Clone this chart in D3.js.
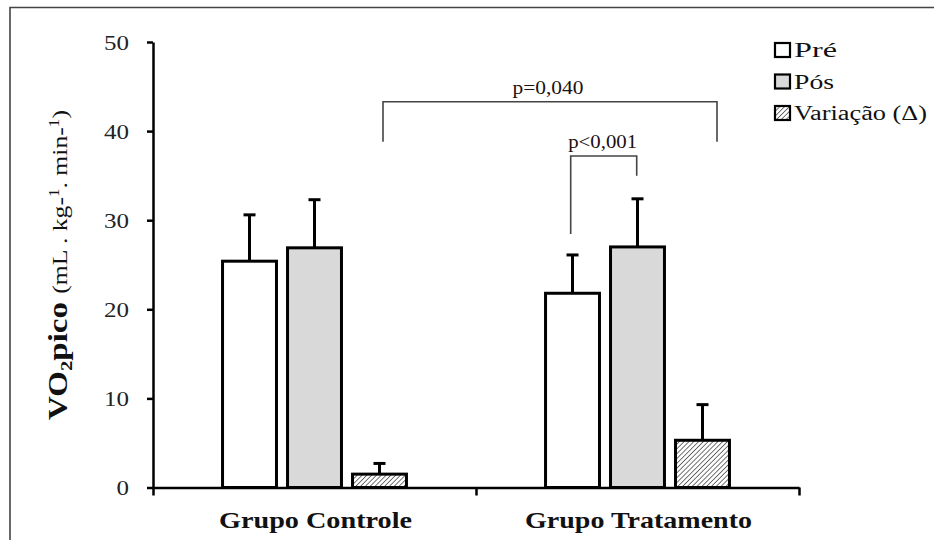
<!DOCTYPE html>
<html>
<head>
<meta charset="utf-8">
<script src="https://cdn.jsdelivr.net/npm/d3@7"></script>
<style>
  body { margin: 0; background: #fff; }
  svg text { font-family: "Liberation Serif", "Times New Roman", Times, serif; }
</style>
</head>
<body>
<div class="chart"></div>
<script>
// data
const groups = ['Grupo Controle', 'Grupo Tratamento'];
const series = ['Pré', 'Pós', 'Variação  (Δ)'];
const means = [[25.4, 26.9, 1.5], [21.8, 27.0, 5.3]];
const errors = [[5.2, 5.4, 1.2], [4.3, 5.4, 4.0]];
const yTicks = [0, 10, 20, 30, 40, 50];
// brackets: y in data units
const brackets = [
  { label: 'p=0,040', top: 43.3, ends: [38.8, 38.8] },
  { label: 'p<0,001', top: 37.2, ends: [28.45, 35.0] }
];

const width = 934, height = 540;
const serif = '"Liberation Serif", "Times New Roman", serif';
const svg = d3.select('.chart').append('svg').attr('width', width).attr('height', height)
  .style('display', 'block');

// frame (top and left edges visible)
svg.append('path').attr('d', 'M10,540V7.5H934').attr('fill', 'none')
  .attr('stroke', '#444').attr('stroke-width', 1.6);

const defs = svg.append('defs');
const hatch = defs.append('pattern').attr('id', 'hatch').attr('patternUnits', 'userSpaceOnUse')
  .attr('width', 3.4).attr('height', 3.4).attr('patternTransform', 'rotate(45)');
hatch.append('rect').attr('width', 3.4).attr('height', 3.4).attr('fill', '#fff');
hatch.append('line').attr('x1', 0).attr('y1', 0).attr('x2', 0).attr('y2', 3.4)
  .attr('stroke', '#000').attr('stroke-width', 1.1);

const fills = ['#ffffff', '#d9d9d9', 'url(#hatch)'];

const x0 = d3.scaleBand().domain(d3.range(groups.length)).range([153, 799]).padding(0);
const x1 = d3.scaleBand().domain(d3.range(series.length)).range([0, x0.bandwidth()])
  .paddingInner(0.17).paddingOuter(1.07);
const y = d3.scaleLinear().domain([0, 50]).range([487.5, 42]);

// glyphs are drawn wider than normal in the original -> stretch to measured widths
function fit(sel, len) {
  sel.attr('textLength', len).attr('lengthAdjust', 'spacingAndGlyphs');
}

// bars
const g = svg.append('g');
groups.forEach((grp, gi) => {
  series.forEach((s, si) => {
    const bx = x0(gi) + x1(si);
    g.append('rect')
      .attr('x', bx).attr('y', y(means[gi][si]))
      .attr('width', x1.bandwidth()).attr('height', y(0) - y(means[gi][si]))
      .attr('fill', fills[si]).attr('stroke', '#000').attr('stroke-width', 3);
    const cx = bx + x1.bandwidth() / 2;
    const top = y(means[gi][si] + errors[gi][si]);
    g.append('line').attr('x1', cx).attr('x2', cx)
      .attr('y1', y(means[gi][si])).attr('y2', top)
      .attr('stroke', '#000').attr('stroke-width', 3);
    g.append('line').attr('x1', cx - 6).attr('x2', cx + 6)
      .attr('y1', top).attr('y2', top)
      .attr('stroke', '#000').attr('stroke-width', 3);
  });
});

// y axis
const yAxis = d3.axisLeft(y).tickValues(yTicks).tickSizeInner(6).tickSizeOuter(0).tickPadding(18);
const yAxisDraw = svg.append('g').attr('transform', 'translate(153,0)').call(yAxis)
  .attr('font-family', serif);
yAxisDraw.select('.domain').attr('stroke', '#000').attr('stroke-width', 2.5);
yAxisDraw.selectAll('.tick line').attr('stroke', '#000').attr('stroke-width', 2.5);
yAxisDraw.selectAll('.tick text')
  .attr('font-size', 21).attr('fill', '#222')
  .attr('dy', '0.34em')
  .each(function (d) { fit(d3.select(this), d === 0 ? 12.5 : 25); });

// x axis
const xEdge = d3.scaleLinear().domain([0, groups.length]).range([153, 799]);
const xAxis = d3.axisBottom(xEdge).tickValues([0, 1, 2]).tickFormat('')
  .tickSizeInner(8).tickSizeOuter(0);
const xAxisDraw = svg.append('g').attr('transform', `translate(0,${y(0)})`).call(xAxis);
xAxisDraw.select('.domain').attr('stroke', '#000').attr('stroke-width', 2.5);
xAxisDraw.selectAll('.tick line').attr('stroke', '#000').attr('stroke-width', 2.5);

const xLabelLen = [193, 227];
groups.forEach((grp, gi) => {
  svg.append('text')
    .attr('x', x0(gi) + x0.bandwidth() / 2 + 1).attr('y', 528)
    .attr('text-anchor', 'middle').attr('font-weight', 'bold').attr('font-size', 24)
    .attr('fill', '#111').text(grp)
    .call(fit, xLabelLen[gi]);
});

// y label
const yl = svg.append('text')
  .attr('transform', 'translate(67,265) rotate(-90)')
  .attr('text-anchor', 'middle').attr('fill', '#111');
yl.append('tspan').attr('font-weight', 'bold').attr('font-size', 27).text('VO');
yl.append('tspan').attr('font-weight', 'bold').attr('font-size', 17).attr('dy', 5).text('2');
yl.append('tspan').attr('font-weight', 'bold').attr('font-size', 27).attr('dy', -5).text('pico ');
yl.append('tspan').attr('font-size', 21).text('(mL . kg-');
yl.append('tspan').attr('font-size', 14).attr('dy', -8).text('1');
yl.append('tspan').attr('font-size', 21).attr('dy', 8).text('. min-');
yl.append('tspan').attr('font-size', 14).attr('dy', -8).text('1');
yl.append('tspan').attr('font-size', 21).attr('dy', 8).text(')');
fit(yl, 310);

// significance brackets
const bracketX = [[383, 717], [570.7, 636.7]];
brackets.forEach((b, i) => {
  const xa = bracketX[i][0], xb = bracketX[i][1];
  svg.append('path')
    .attr('d', `M${xa},${y(b.ends[0])}V${y(b.top)}H${xb}V${y(b.ends[1])}`)
    .attr('fill', 'none').attr('stroke', '#444').attr('stroke-width', 1.6);
  svg.append('text')
    .attr('x', (xa + xb) / 2 + (i === 1 ? -1 : -2)).attr('y', y(b.top) - 8)
    .attr('text-anchor', 'middle').attr('font-size', 18).attr('fill', '#1a1010')
    .text(b.label)
    .call(fit, i === 0 ? 71 : 69);
});

// legend
const legendLen = [43, 40, 133];
const legend = svg.append('g').attr('transform', 'translate(775,43)');
series.forEach((s, si) => {
  const row = legend.append('g').attr('transform', `translate(0,${si * 31.5})`);
  row.append('rect').attr('x', 0).attr('y', 0).attr('width', 15).attr('height', 14)
    .attr('fill', fills[si]).attr('stroke', '#000').attr('stroke-width', 2.2);
  row.append('text').attr('x', 19).attr('y', 14).attr('font-size', 20).attr('fill', '#111')
    .attr('font-weight', 'normal')
    .text(s).call(fit, legendLen[si]);
});
</script>
</body>
</html>
